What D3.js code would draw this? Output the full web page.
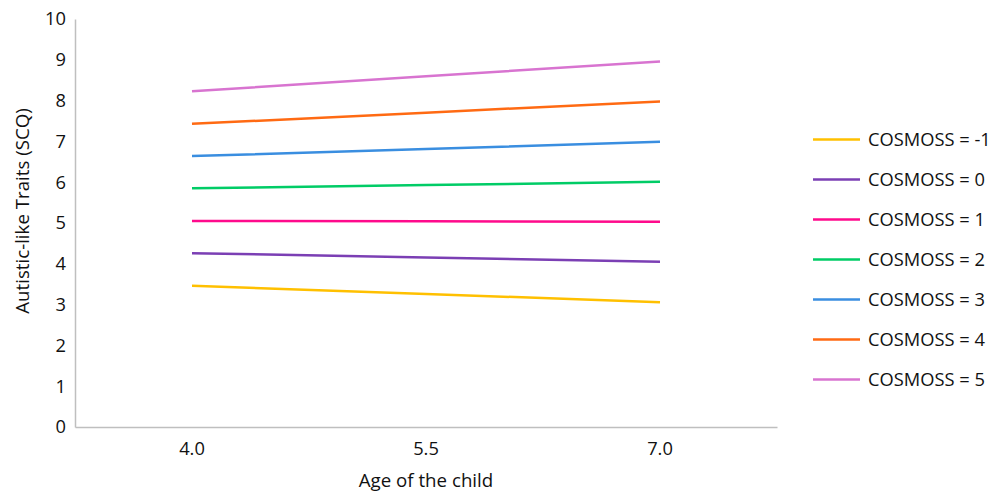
<!DOCTYPE html>
<html><head><meta charset="utf-8">
<script src="https://cdn.jsdelivr.net/npm/d3@7"></script>
<style>body{margin:0;background:#fff}svg{display:block}text{font-family:"Open Sans",sans-serif;fill:#111}</style>
</head><body><svg id="c" width="991" height="493"></svg>
<script>
const ages = ["4.0", "5.5", "7.0"];
const seriesNames = ["COSMOSS = -1","COSMOSS = 0","COSMOSS = 1","COSMOSS = 2","COSMOSS = 3","COSMOSS = 4","COSMOSS = 5"];
const valsM1 = [3.46, 3.26, 3.06];
const vals0  = [4.26, 4.155, 4.05];
const vals1  = [5.05, 5.04, 5.03];
const vals2  = [5.85, 5.93, 6.01];
const vals3  = [6.64, 6.815, 6.99];
const vals4  = [7.43, 7.705, 7.98];
const vals5  = [8.23, 8.595, 8.96];
const yTicks = [0,1,2,3,4,5,6,7,8,9,10];
const colors = ["#FFC000","#7B3FB4","#FF0A8C","#00CC66","#3A8EE0","#FF6A13","#D874D0"];

const allVals = [valsM1, vals0, vals1, vals2, vals3, vals4, vals5];
const svg = d3.select("#c");
const L = 75, R = 777, T = 19, B = 427;
const FONT = "'Open Sans', sans-serif";
const FS = "18.3px";
const x = d3.scaleBand().domain(ages).range([L, R]);
const y = d3.scaleLinear().domain([0, 10]).range([B, T]);

const ya = svg.append("g").attr("transform", `translate(${L},0)`)
  .call(d3.axisLeft(y).tickValues(yTicks).tickSize(0).tickPadding(9));
ya.select(".domain").attr("stroke", "#BFBFBF").attr("stroke-width", 1.5);
ya.selectAll("text").style("font-size", FS).attr("font-family", FONT).attr("fill","#111");

const xa = svg.append("g").attr("transform", `translate(0,${B})`)
  .call(d3.axisBottom(x).tickSize(0).tickPadding(15));
xa.select(".domain").attr("stroke", "#BFBFBF").attr("stroke-width", 1.5);
xa.selectAll("text").style("font-size", FS).attr("font-family", FONT).attr("fill","#111");

const line = d3.line().x((d, i) => x(ages[i]) + x.bandwidth() / 2).y(d => y(d));
allVals.forEach((v, k) => {
  svg.append("path").datum(v).attr("d", line).attr("fill", "none")
    .attr("stroke", colors[k]).attr("stroke-width", 2.5);
});

const lg = svg.append("g");
seriesNames.forEach((n, k) => {
  const yy = 139.5 + k * 40;
  lg.append("line").attr("x1", 813).attr("x2", 860).attr("y1", yy).attr("y2", yy)
    .attr("stroke", colors[k]).attr("stroke-width", 2.5);
  lg.append("text").attr("x", 868).attr("y", yy).attr("dy", "0.35em")
    .style("font-size", FS).text(n);
});

svg.append("text").attr("x", 426).attr("y", 487).attr("text-anchor", "middle")
  .style("font-size", "18.7px").text("Age of the child");
svg.append("text").attr("transform", "translate(29,211) rotate(-90)").attr("text-anchor", "middle")
  .style("font-size", "18.7px").text("Autistic-like Traits (SCQ)");
</script></body></html>
